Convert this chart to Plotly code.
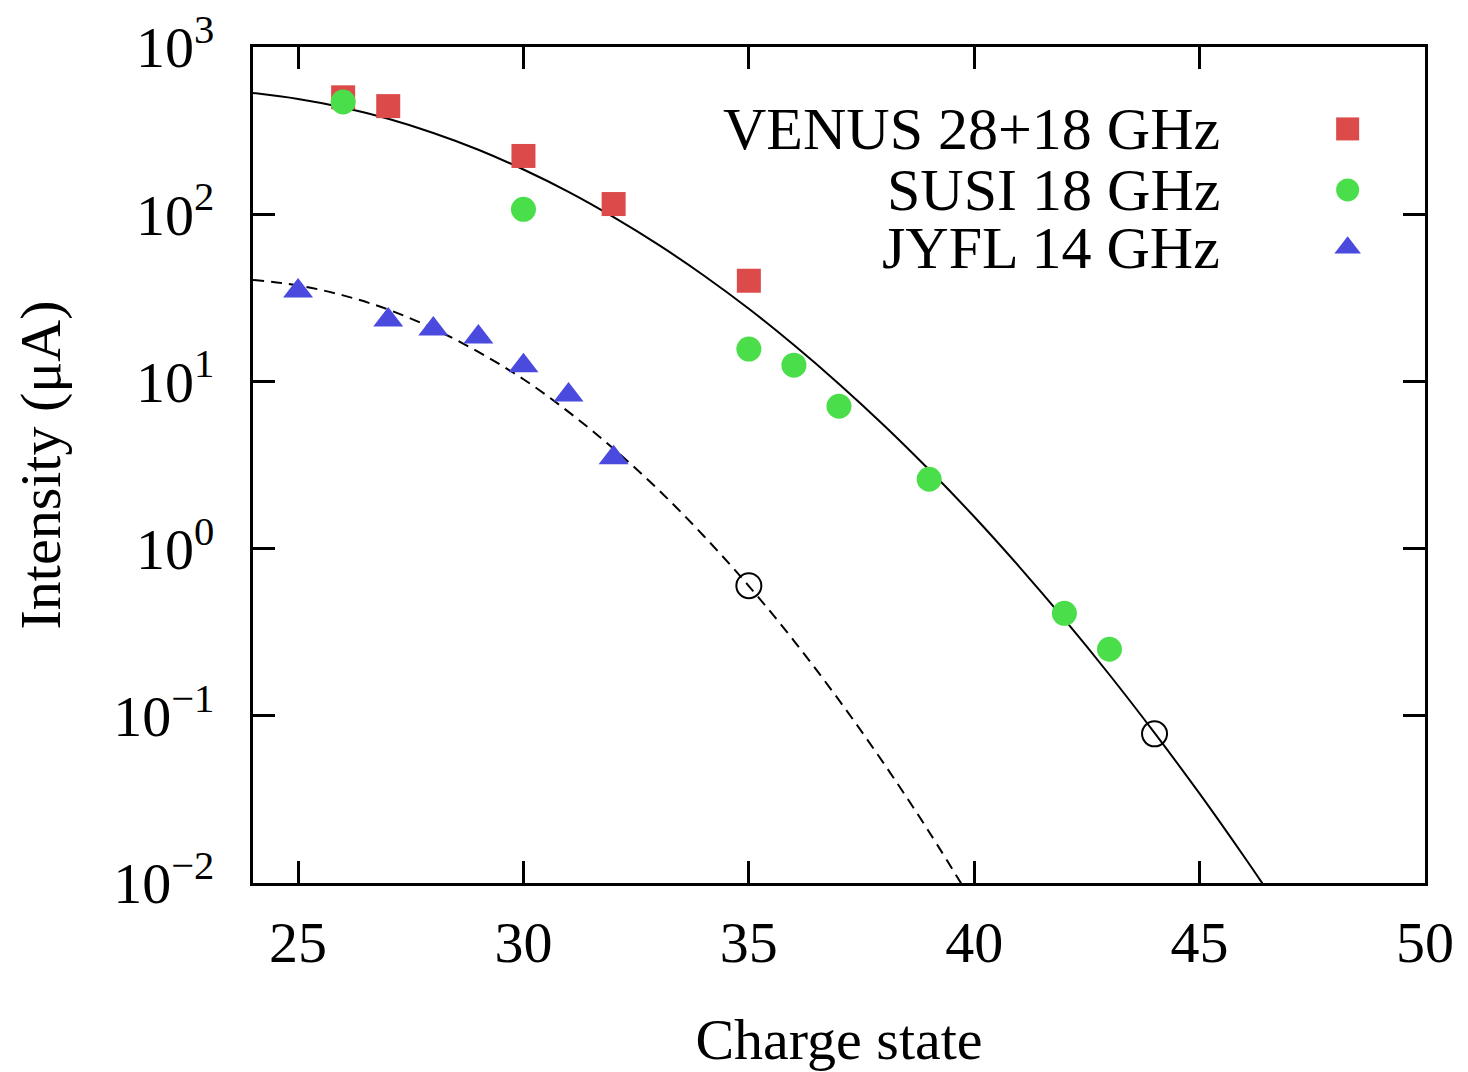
import plotly.graph_objects as go

# ---- data ----
venus_q = [26, 27, 30, 32, 35]
venus_i = [500, 443, 223, 115, 40]

susi_q = [26, 30, 35, 36, 37, 39, 42, 43]
susi_i = [469, 107, 15.6, 12.5, 7.1, 2.6, 0.41, 0.25]

jyfl_q = [25, 27, 28, 29, 30, 31, 32]
jyfl_i = [34.7, 23.3, 20.6, 18.4, 12.4, 8.3, 3.5]

open_q = [35, 44]
open_i = [0.6, 0.078]

# solid curve
fit1_q = [24, 25, 26, 27, 28, 29, 30, 31, 32, 33, 34, 35, 36, 37, 38, 39, 40,
          41, 42, 43, 44, 45, 46, 47]
fit1_i = [531, 489, 435, 372, 306, 243, 185, 136, 96, 65.5, 43, 27.2, 16.5,
          9.66, 5.45, 2.96, 1.55, 0.778, 0.377, 0.176, 0.079, 0.0342, 0.0142,
          0.0057]

# dashed curve
fit2_q = [24, 25, 26, 27, 28, 29, 30, 31, 32, 33, 34, 35, 36, 37, 38, 39, 40]
fit2_i = [40.4, 37.5, 32.7, 26.9, 20.7, 15.0, 10.3, 6.57, 3.95, 2.24, 1.19,
          0.597, 0.281, 0.124, 0.0516, 0.0202, 0.0074]

legend_names = ["VENUS 28+18 GHz", "SUSI 18 GHz", "JYFL 14 GHz"]
legend_symbols = ["square", "circle", "triangle-up"]
legend_rows = [0.902, 0.829, 0.760]

y_tickvals = [1e-2, 1e-1, 1, 10, 100, 1000]
y_ticktext = ["10<sup>\u22122</sup>", "10<sup>\u22121</sup>", "10<sup>0</sup>",
              "10<sup>1</sup>", "10<sup>2</sup>", "10<sup>3</sup>"]
x_tickvals = [25, 30, 35, 40, 45, 50]

RED = "#dc4a4a"
GREEN = "#4ade4a"
BLUE = "#4a4ade"
colors = [RED, GREEN, BLUE]
FONT = "Liberation Serif, Times New Roman, serif"

fig = go.Figure()

fig.add_trace(go.Scatter(x=fit1_q, y=fit1_i, mode="lines", line_shape="spline",
                         line=dict(color="black", width=2), showlegend=False))
fig.add_trace(go.Scatter(x=fit2_q, y=fit2_i, mode="lines", line_shape="spline",
                         line=dict(color="black", width=2, dash="11px,7px"),
                         showlegend=False))

fig.add_trace(go.Scatter(x=venus_q, y=venus_i, mode="markers", name=legend_names[0],
                         marker=dict(symbol="square", size=24, color=RED),
                         showlegend=False))
fig.add_trace(go.Scatter(x=susi_q, y=susi_i, mode="markers", name=legend_names[1],
                         marker=dict(symbol="circle", size=25, color=GREEN),
                         showlegend=False))
fig.add_trace(go.Scatter(x=jyfl_q, y=jyfl_i, mode="markers", name=legend_names[2],
                         marker=dict(symbol="triangle-up", size=26, color=BLUE),
                         showlegend=False))
fig.add_trace(go.Scatter(x=open_q, y=open_i, mode="markers",
                         marker=dict(symbol="circle-open", size=25, color="black",
                                     line=dict(width=2, color="black")),
                         showlegend=False))

# legend key symbols on an overlay axis
for name, sym, row, col in zip(legend_names, legend_symbols, legend_rows, colors):
    fig.add_trace(go.Scatter(x=[0.934], y=[row], xaxis="x2", yaxis="y2",
                             mode="markers",
                             marker=dict(symbol=sym, size=23, color=col),
                             showlegend=False, hoverinfo="skip"))
    fig.add_annotation(x=0.827, y=row, xref="paper", yref="paper", text=name,
                       showarrow=False, xanchor="right", yanchor="middle",
                       font=dict(family=FONT, size=60, color="black"))

axis_common = dict(showline=True, linecolor="black", linewidth=3, mirror="ticks",
                   ticks="inside", ticklen=22, tickwidth=3, tickcolor="black",
                   showgrid=False, zeroline=False, automargin=False,
                   ticklabeloverflow="allow",
                   tickfont=dict(family=FONT, size=58, color="black"),
                   title_font=dict(family=FONT, size=58, color="black"))

fig.update_layout(
    width=1460, height=1064,
    margin=dict(l=245, r=43, t=39, b=189),
    plot_bgcolor="white", paper_bgcolor="white",
    xaxis=dict(range=[24, 50], tickvals=x_tickvals, ticklabelstandoff=6,
               title=dict(text="Charge state", standoff=62), **axis_common),
    yaxis=dict(type="log", range=[-2, 3], tickvals=y_tickvals, ticktext=y_ticktext,
               ticklabelstandoff=24,
               title=dict(text="Intensity (\u03bcA)", standoff=40), **axis_common),
    xaxis2=dict(range=[0, 1], overlaying="x", visible=False),
    yaxis2=dict(range=[0, 1], overlaying="y", visible=False),
    showlegend=False,
)

fig.write_html("out.html")
